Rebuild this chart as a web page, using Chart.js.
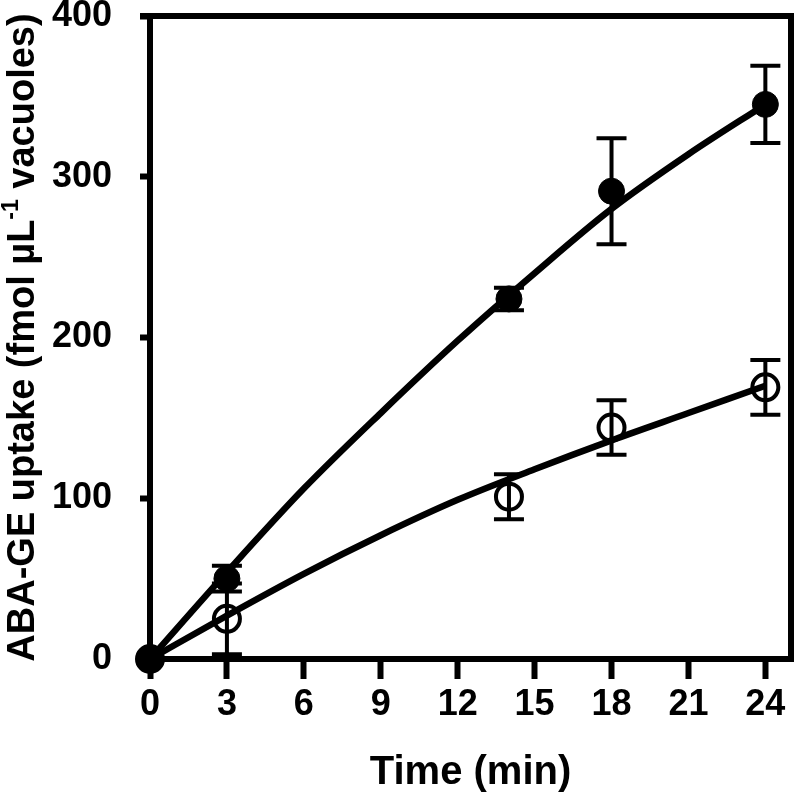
<!DOCTYPE html>
<html>
<head>
<meta charset="utf-8">
<script src="https://cdn.jsdelivr.net/npm/chart.js@4"></script>
<style>
  body { margin: 0; background: #fff; }
  #wrap { width: 798px; height: 802px; }
</style>
</head>
<body>
<div id="wrap"><canvas id="chart-area" width="798" height="802"></canvas></div>
<script>
// time points (min)
const times = [0, 3, 14, 18, 24];
// ABA-GE uptake, filled circles and open circles
const filledVals = [0, 50, 224, 291, 345];
const filledErr = [0, 8, 7, 33, 24];
const openVals = [0, 25, 101, 144, 169];
const openErr = [0, 22, 14, 17, 17];

// fitted curves
const fitTimes = [0, 3, 6, 9, 12, 15, 18, 21, 24];
const filledFit = [0, 54, 106, 153, 198, 240, 280, 314, 345];
const openFit = [0, 27, 53, 77, 99, 118, 136, 153, 170];

const xTicks = [0, 3, 6, 9, 12, 15, 18, 21, 24];
const yTicks = [0, 100, 200, 300, 400];

const FONT = "'Liberation Sans', Arial, sans-serif";

function pts(xs, ys) {
  return xs.map((x, i) => ({ x: x, y: ys[i] }));
}

// error bars for the two point sets
const errorBars = {
  id: "errorBars",
  afterDatasetsDraw(chart) {
    const ctx = chart.ctx;
    const xs = chart.scales.x;
    const ys = chart.scales.y;
    ctx.save();
    ctx.strokeStyle = "#000";
    ctx.lineWidth = 4;
    [[filledVals, filledErr], [openVals, openErr]].forEach(([vals, errs]) => {
      times.forEach((t, i) => {
        if (!errs[i]) return;
        const px = xs.getPixelForValue(t);
        const top = ys.getPixelForValue(vals[i] + errs[i]);
        const bot = ys.getPixelForValue(vals[i] - errs[i]);
        ctx.beginPath();
        ctx.moveTo(px, top);
        ctx.lineTo(px, bot);
        ctx.moveTo(px - 15, top);
        ctx.lineTo(px + 15, top);
        ctx.moveTo(px - 15, bot);
        ctx.lineTo(px + 15, bot);
        ctx.stroke();
      });
    });
    ctx.restore();
  },
};

// box around the plot + y title with superscript
const frame = {
  id: "frame",
  afterDraw(chart) {
    const ctx = chart.ctx;
    const a = chart.chartArea;
    ctx.save();
    ctx.strokeStyle = "#000";
    ctx.lineWidth = 6;
    ctx.beginPath();
    ctx.moveTo(a.left - 10, a.top);
    ctx.lineTo(a.right, a.top);
    ctx.lineTo(a.right, a.bottom + 3);
    ctx.stroke();

    // y axis title
    const cy = (a.top + a.bottom) / 2;
    ctx.translate(24, cy);
    ctx.rotate(-Math.PI / 2);
    ctx.fillStyle = "#000";
    ctx.textBaseline = "middle";
    const big = "bold 38px " + FONT;
    const small = "bold 23px " + FONT;
    const p1 = "ABA-GE uptake (fmol µL";
    const sup = "-1";
    const p2 = " vacuoles)";
    ctx.font = big;
    const w1 = ctx.measureText(p1).width;
    const w3 = ctx.measureText(p2).width;
    ctx.font = small;
    const w2 = ctx.measureText(sup).width;
    let x = -(w1 + w2 + w3) / 2;
    ctx.font = big;
    ctx.fillText(p1, x, 0);
    x += w1;
    ctx.font = small;
    ctx.fillText(sup, x, -12);
    x += w2;
    ctx.font = big;
    ctx.fillText(p2, x, 0);
    ctx.restore();
  },
};

new Chart("chart-area", {
  data: {
    datasets: [
      {
        type: "line",
        data: pts(fitTimes, filledFit),
        borderColor: "#000",
        borderWidth: 6.5,
        pointRadius: 0,
        cubicInterpolationMode: "monotone",
        order: 0,
      },
      {
        type: "line",
        data: pts(fitTimes, openFit),
        borderColor: "#000",
        borderWidth: 6.5,
        pointRadius: 0,
        cubicInterpolationMode: "monotone",
        order: 0,
      },
      {
        type: "scatter",
        data: pts(times, openVals),
        pointRadius: 13,
        pointBackgroundColor: "#fff",
        pointBorderColor: "#000",
        pointBorderWidth: 4,
        clip: false,
        order: 2,
      },
      {
        type: "scatter",
        data: pts(times, filledVals),
        pointRadius: 13,
        pointBackgroundColor: "#000",
        pointBorderColor: "#000",
        pointBorderWidth: 1,
        clip: false,
        order: 1,
      },
    ],
  },
  plugins: [errorBars, frame],
  options: {
    responsive: false,
    animation: false,
    events: [],
    layout: { autoPadding: false, padding: { left: 0, right: 7, top: 16, bottom: 0 } },
    plugins: { legend: { display: false }, tooltip: { enabled: false } },
    scales: {
      x: {
        type: "linear",
        min: 0,
        max: 25,
        afterBuildTicks: (s) => { s.ticks = xTicks.map((v) => ({ value: v })); },
        afterFit: (s) => { s.height = 143; s.paddingLeft = 0; s.paddingRight = 0; },
        border: { color: "#000", width: 6 },
        grid: { drawOnChartArea: false, tickLength: 20, tickWidth: 6, tickColor: "#000" },
        ticks: { color: "#000", padding: 4, maxRotation: 0, font: { family: FONT, size: 36, weight: "bold" } },
        title: { display: true, text: "Time (min)", color: "#000", padding: { top: 0, bottom: 5 }, font: { family: FONT, size: 40, weight: "bold" } },
      },
      y: {
        min: 0,
        max: 400,
        afterBuildTicks: (s) => { s.ticks = yTicks.map((v) => ({ value: v })); },
        afterFit: (s) => { s.width = 150; s.paddingTop = 0; s.paddingBottom = 0; },
        border: { color: "#000", width: 6 },
        grid: { drawOnChartArea: false, tickLength: 10, tickWidth: 6, tickColor: "#000" },
        ticks: { color: "#000", padding: 28, font: { family: FONT, size: 36, weight: "bold" } },
      },
    },
  },
});
</script>
</body>
</html>
